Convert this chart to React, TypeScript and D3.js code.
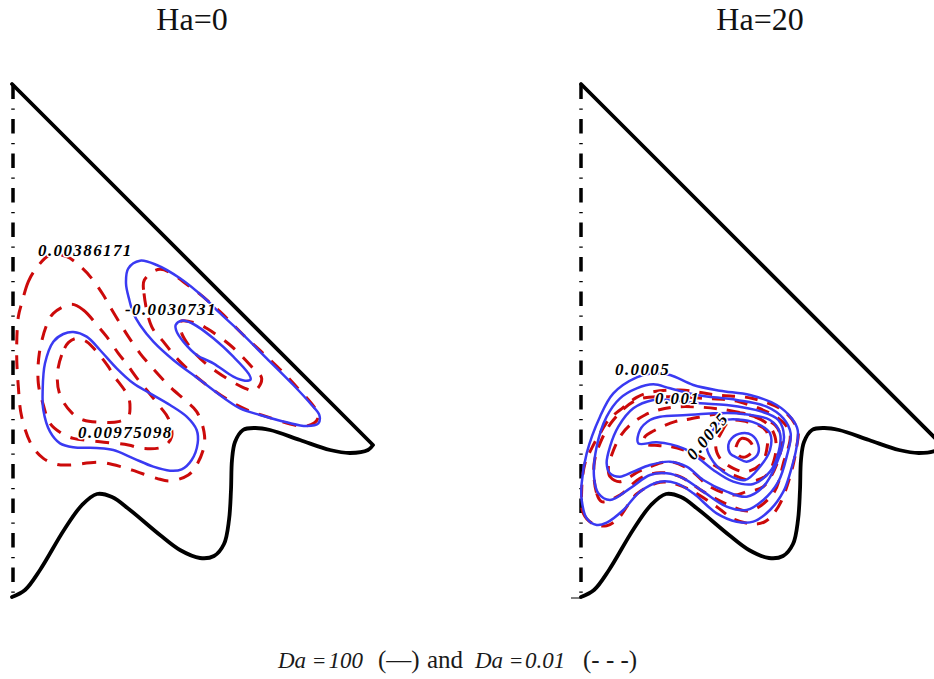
import React from "react";
import * as d3 from "d3";

type P = [number, number];

// Wall shape, measured from the apex of the cavity (both panels share it)
const wall: P[] = [[0,0],[361,361],[356,366],[338,369],[318,366],[288,356],[258,346],[243,344],[231,346],[223,358],[220,376],[219,406],[217,436],[212,460],[202,472],[188,474],[168,466],[148,451],[118,426],[100,413],[85,410],[70,421],[52,446],[28,486],[13,506],[0,513]];

// Ha=0 contours, in reading units of the left panel
const h0Blue: P[][] = [
  [[388,240],[378,190],[385,145],[420,122],[470,135],[540,175],[620,240],[655,275],[720,335],[800,415],[880,495],[935,555],[958,585],[955,610],[920,618],[860,607],[780,585],[720,565],[680,540],[600,480],[520,420],[460,365],[420,315],[400,280]],
  [[527,315],[545,302],[580,312],[640,355],[700,410],[745,460],[752,478],[735,482],[700,470],[640,430],[590,405],[550,365],[530,335]],
  [[128,510],[135,430],[160,365],[190,342],[220,336],[260,350],[300,390],[350,445],[400,490],[450,520],[510,555],[560,590],[590,630],[593,670],[575,720],[545,748],[510,752],[460,740],[400,715],[340,690],[290,684],[220,682],[180,670],[150,635],[130,570]],
];
const h0Red: P[][] = [
  [[105,150],[85,185],[65,250],[55,290],[50,400],[55,500],[65,590],[95,675],[130,715],[170,733],[210,735],[300,727],[370,742],[410,755],[470,775],[510,783],[565,765],[590,735],[612,680],[612,635],[590,575],[560,545],[515,505],[490,480],[445,430],[420,400],[385,350],[365,318],[330,260],[310,225],[275,175],[245,143],[200,110],[150,105]],
  [[215,253],[250,270],[295,320],[320,350],[355,400],[380,432],[415,480],[440,510],[480,560],[505,595],[515,650],[490,680],[425,685],[385,675],[300,665],[220,655],[185,640],[150,610],[130,555],[115,490],[118,400],[140,315],[160,280]],
  [[205,368],[185,405],[172,465],[180,525],[215,578],[250,600],[310,607],[355,605],[385,590],[390,565],[385,530],[340,465],[325,440],[290,395],[260,365],[230,355]],
  [[433,180],[432,220],[455,320],[490,365],[540,425],[620,495],[720,560],[800,590],[920,618],[955,590],[880,490],[800,410],[730,345],[660,275],[570,200],[480,148]],
  [[540,305],[545,340],[590,405],[650,455],[735,505],[765,512],[785,475],[755,440],[690,375],[620,325],[590,310]],
];

// Ha=20 contours, in reading units of the right panel
const h20Blue: P[][] = [
  [[300,75],[370,105],[450,122],[540,135],[620,165],[665,205],[683,240],[680,290],[660,370],[640,425],[600,480],[550,515],[500,515],[440,490],[370,430],[320,400],[270,395],[210,425],[160,480],[110,518],[80,525],[50,505],[35,450],[35,400],[50,310],[90,200],[130,130],[200,82],[250,70]],
  [[250,103],[300,115],[380,135],[500,150],[590,170],[640,205],[662,250],[650,320],[625,395],[580,450],[530,480],[470,470],[400,425],[340,385],[290,370],[240,375],[180,415],[120,450],[85,430],[72,380],[80,290],[110,200],[150,145],[200,115]],
  [[250,150],[190,175],[145,230],[120,290],[110,340],[120,370],[150,380],[190,365],[240,345],[300,335],[350,350],[400,390],[470,425],[530,440],[580,410],[620,340],[642,260],[625,210],[575,185],[470,165],[390,160],[300,150]],
  [[205,280],[210,240],[240,210],[270,200],[350,195],[430,190],[500,190],[600,210],[630,250],[622,320],[600,365],[550,402],[490,395],[430,360],[380,320],[340,295],[260,277]],
  [[410,290],[430,335],[475,375],[525,390],[570,350],[600,300],[600,250],[570,225],[520,210],[460,212],[425,245]],
  [[475,285],[485,265],[515,250],[545,255],[565,285],[562,315],[530,335],[505,325],[480,310]],
];
const h20Red: P[][] = [
  [[35,420],[40,490],[70,522],[110,527],[145,505],[200,432],[270,397],[320,403],[370,425],[440,470],[490,507],[550,522],[585,515],[625,470],[660,380],[680,290],[683,240],[640,182],[545,145],[440,135],[330,120],[240,127],[200,142],[150,180],[120,205],[90,250],[65,295],[45,340]],
  [[72,345],[80,430],[95,455],[150,435],[210,385],[270,368],[330,380],[400,425],[470,462],[540,482],[610,430],[640,340],[660,250],[625,205],[505,155],[400,145],[300,140],[200,150],[130,210],[90,280]],
  [[115,355],[120,380],[150,395],[205,365],[240,350],[300,335],[360,360],[420,410],[490,435],[530,425],[580,410],[625,330],[635,270],[615,225],[570,205],[470,180],[330,170],[265,180],[225,195],[180,225],[150,260],[125,315]],
  [[222,280],[225,260],[250,243],[315,215],[355,208],[440,192],[520,190],[590,220],[615,260],[615,320],[590,375],[550,392],[490,375],[440,350],[380,315],[305,290],[270,287]],
  [[437,285],[450,255],[480,213],[530,215],[565,225],[590,245],[590,300],[575,340],[530,365],[490,355],[450,325]],
  [[497,295],[515,265],[540,275],[550,300],[520,322],[500,310]],
];

const titles = ["Ha=0", "Ha=20"];
const leftLabels = ["0.00386171", "-0.0030731", "0.00975098"];
const rightLabels = ["0.0005", "0.001", "0.0025"];

const SERIF = "'Liberation Serif', 'Times New Roman', serif";
const BLUE = "#3a3af2";
const RED = "#cc0a0a";

export default function App() {
  const lx = d3.scaleLinear().domain([0, 1170]).range([0, 390]);
  const ly = d3.scaleLinear().domain([0, 840]).range([220, 500]);
  const rx = d3.scaleLinear().domain([0, 720]).range([570, 810]);
  const ry = d3.scaleLinear().domain([0, 570]).range([350, 540]);
  const wy = d3.scaleLinear().domain([0, 513]).range([84, 597]);
  const wx0 = d3.scaleLinear().domain([0, 361]).range([12, 373]);
  const wx1 = d3.scaleLinear().domain([0, 361]).range([581, 942]);

  const closed = (x: any, y: any) =>
    d3.line<P>().x(d => x(d[0])).y(d => y(d[1])).curve(d3.curveCatmullRomClosed.alpha(0.5));
  const wallPath = (x: any) => {
    const straight = d3.line<P>().x(d => x(d[0])).y(d => wy(d[1]))(wall.slice(0, 2));
    const curved = d3.line<P>().x(d => x(d[0])).y(d => wy(d[1])).curve(d3.curveCatmullRom.alpha(0.5))(wall.slice(1));
    return (straight ?? "") + (curved ?? "");
  };

  const labelStyle: React.CSSProperties = {
    fontFamily: SERIF, fontWeight: 700, fontStyle: "italic", fontSize: 17, letterSpacing: 1.4,
    paintOrder: "stroke", stroke: "#fff", strokeWidth: 3, strokeLinejoin: "round", fill: "#000",
  };
  const regular = { fontFamily: SERIF, fill: "#1a1a1a", fontSize: 25 } as const;
  const italic = { fontFamily: SERIF, fill: "#1a1a1a", fontSize: 23, fontStyle: "italic" } as const;

  const axis = (x: number) => (
    <line x1={x} x2={x} y1={84.5} y2={597} stroke="#000" strokeWidth={3.5} strokeDasharray="14.5 9.5 1.2 9.3" />
  );
  const lp = closed(lx, ly);
  const rp = closed(rx, ry);

  return (
    <svg width={934} height={679} style={{ position: "absolute", left: 0, top: 0, background: "#fff" }}>
      <text x={192} y={30} textAnchor="middle" fontFamily={SERIF} fontSize={32} fill="#111">{titles[0]}</text>
      <text x={760} y={30} textAnchor="middle" fontFamily={SERIF} fontSize={32} fill="#111">{titles[1]}</text>

      {axis(13)}
      {axis(581)}
      <line x1={571} x2={580} y1={598} y2={598} stroke="#000" strokeWidth={1} />

      <g fill="none" stroke={RED} strokeWidth={3}>
        {h0Red.map((c, i) => <path key={i} d={lp(c) ?? ""} strokeDasharray="14 11" />)}
        {h20Red.map((c, i) => <path key={i} d={rp(c) ?? ""} strokeDasharray="13 10" />)}
      </g>
      <g fill="none" stroke={BLUE} strokeWidth={2.5}>
        {h0Blue.map((c, i) => <path key={i} d={lp(c) ?? ""} />)}
        {h20Blue.map((c, i) => <path key={i} d={rp(c) ?? ""} />)}
      </g>

      <g fill="none" stroke="#000" strokeWidth={3.8} strokeLinejoin="round" strokeLinecap="round">
        <path d={wallPath(wx0)} />
        <path d={wallPath(wx1)} />
      </g>

      <text x={38} y={256} style={labelStyle}>{leftLabels[0]}</text>
      <text x={125} y={315} style={labelStyle}>{leftLabels[1]}</text>
      <text x={78} y={438} style={labelStyle}>{leftLabels[2]}</text>
      <text x={615} y={375} style={labelStyle}>{rightLabels[0]}</text>
      <text x={655} y={404} style={labelStyle}>{rightLabels[1]}</text>
      <text x={0} y={0} transform="translate(694,461) rotate(-50)" style={labelStyle}>{rightLabels[2]}</text>

      <text x={278} y={668} {...italic}>Da</text>
      <text x={313} y={668} {...regular} fontSize={22}>=</text>
      <text x={328.5} y={668} {...italic}>100</text>
      <text x={378} y={668} {...regular}>(—)</text>
      <text x={427} y={668} {...regular}>and</text>
      <text x={475} y={668} {...italic}>Da</text>
      <text x={510} y={668} {...regular} fontSize={22}>=</text>
      <text x={525} y={668} {...italic}>0.01</text>
      <text x={583} y={668} {...regular}>(- - -)</text>
    </svg>
  );
}
